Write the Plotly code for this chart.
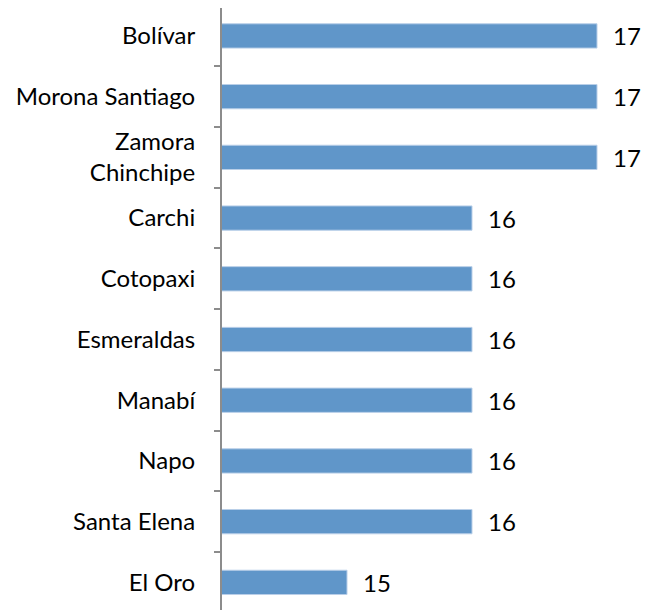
import plotly.graph_objects as go

provinces = ["Bolívar", "Morona Santiago", "Zamora<br>Chinchipe", "Carchi", "Cotopaxi",
             "Esmeraldas", "Manabí", "Napo", "Santa Elena", "El Oro"]
values = [17, 17, 17, 16, 16, 16, 16, 16, 16, 15]

FONT = "Lato, Open Sans, sans-serif"

fig = go.Figure()
fig.add_trace(go.Bar(
    x=values, y=provinces, orientation="h", width=0.4,
    marker=dict(color="#6096C9", line=dict(color="#B9CFE8", width=1)),
    showlegend=False, hoverinfo="skip",
))
for v, p in zip(values, provinces):
    fig.add_annotation(x=v, y=p, text=str(v), showarrow=False, xanchor="left",
                       xshift=14, font=dict(family=FONT, size=24, color="#000"))

fig.update_layout(
    width=641, height=602,
    margin=dict(l=214, r=0, t=0, b=0),
    plot_bgcolor="white", paper_bgcolor="white",
    font=dict(family=FONT, size=24, color="#000"),
)
fig.update_xaxes(range=[14, 17.416], visible=False, showgrid=False, zeroline=False)
fig.update_yaxes(
    type="category", categoryorder="array", categoryarray=provinces,
    range=[9.455, -0.46], showline=True, linecolor="#8C8C8C", linewidth=2,
    ticks="outside", ticklen=6, tickcolor="#8C8C8C", tickwidth=2,
    tickson="boundaries", showgrid=False, ticklabelstandoff=20,
    tickfont=dict(family=FONT, size=24, color="#000"),
)
fig.write_html("out.html")
